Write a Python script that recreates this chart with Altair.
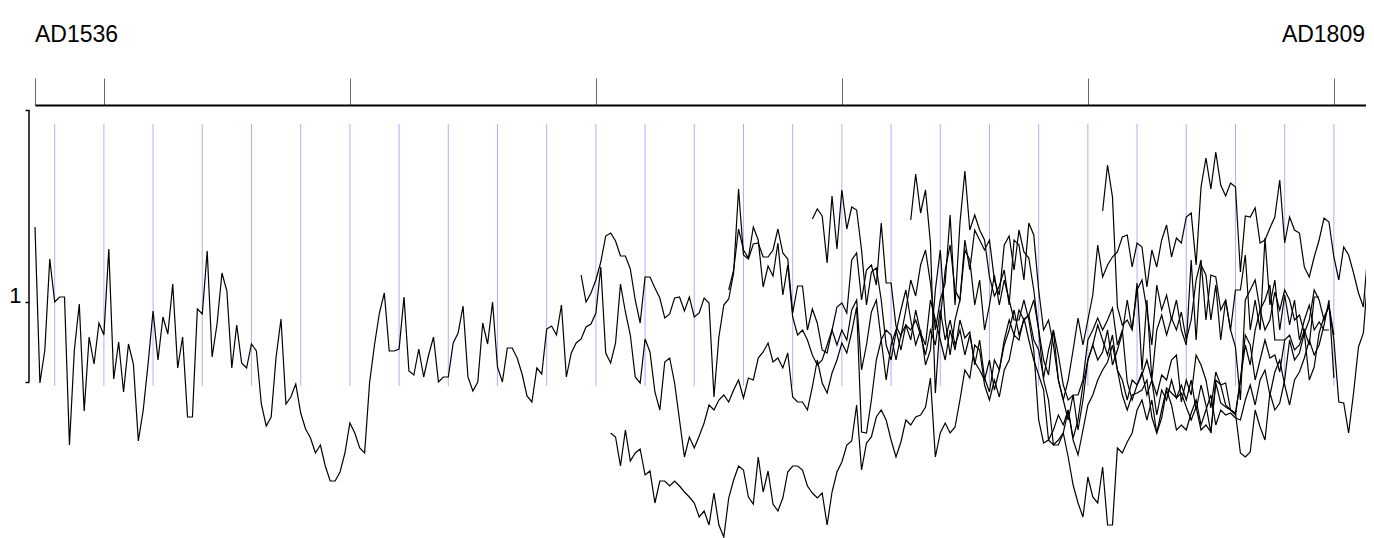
import altair as alt
import pandas as pd

# ---- axis / frame values ----
X_DOMAIN = [1536, 1806.53]
Y_DOMAIN = [-1.36, 2.97]
TICK_YEARS = [1536, 1550, 1600, 1650, 1700, 1750, 1800]
DECADES = list(range(1540, 1801, 10))
GUIDE_RANGE = [0.16, 2.78]
BRACKET = [0.2, 2.92]
Y_TICKS = [0.2, 1.0, 2.92]
START_LABEL, START_YEAR = "AD1536", 1536
END_LABEL = "AD1809"
FONT = "Liberation Sans, Arial, sans-serif"
PLOT_W, PLOT_H = 1331, 433

# ---- series (first year, yearly index values) ----
S1_START = 1536
S1 = [1.75, 0.19, 0.52, 1.43, 1.00, 1.05, 1.05, -0.43, 0.52, 0.98,
      -0.09, 0.65, 0.38, 0.79, 0.67, 1.53, 0.23, 0.60, 0.10, 0.58,
      0.38, -0.39, -0.08, 0.39, 0.91, 0.42, 0.85, 0.68, 1.18, 0.34,
      0.65, -0.15, -0.15, 0.93, 0.88, 1.51, 0.45, 0.78, 1.29, 1.11,
      0.34, 0.77, 0.39, 0.34, 0.58, 0.51, -0.02, -0.24, -0.15, 0.45,
      0.83, -0.02, 0.05, 0.18, -0.11, -0.27, -0.36, -0.51, -0.43, -0.64,
      -0.79, -0.79, -0.70, -0.51, -0.21, -0.31, -0.46, -0.51, 0.19, 0.57,
      0.89, 1.09, 0.51, 0.51, 0.53, 1.05, 0.31, 0.27, 0.53, 0.25,
      0.47, 0.65, 0.20, 0.25, 0.25, 0.59, 0.69, 0.96, 0.25, 0.11,
      0.20, 0.79, 0.58, 1.00, 0.35, 0.20, 0.54, 0.54, 0.44, 0.28,
      0.06, 0.00, 0.34, 0.28, 0.73, 0.76, 0.67, 0.97, 0.25, 0.49,
      0.59, 0.63, 0.75, 0.78, 0.89, 1.35, 0.49, 0.39, 0.59, 1.18,
      0.90, 0.67, 0.25, 0.19, 0.63, 0.50, 0.10, -0.08, 0.40, 0.44,
      0.19, -0.18, -0.55, -0.35, -0.46, -0.34, -0.21, -0.03, -0.08, 0.02,
      0.07, 0.00, 0.12, 0.22, 0.04, 0.24, 0.22, 0.44, 0.50, 0.59,
      0.40, 0.44, 0.34, 0.49, 0.05, 0.00, 0.00, -0.08, 0.15, 0.42,
      0.19, 0.09, 0.29, 0.42, 0.59, 0.49, 0.70, 0.95, -0.30, -0.31,
      0.02, 0.42, 0.62, 0.22, 0.57, 0.72, 0.52, 0.77, 0.72, 0.82,
      0.67, 0.47, 0.72, 0.57, 0.92, 0.62, 0.82, 0.57, 0.72, 0.47,
      0.67, 0.40, 0.32, 0.22, 0.42, 0.12, 0.32, 0.57, 0.72, 0.92,
      0.67, 0.82, 0.87, 0.62, 0.52, 0.24, 0.52, 0.72, 0.22, 0.02,
      -0.18, 0.07, -0.28, 0.02, 0.42, 0.57, 0.77, 0.62, 0.47, 0.67,
      0.32, 0.22, 0.02, 0.22, 0.17, 0.30, 0.07, 0.22, -0.13, 0.12,
      0.02, 0.22, 0.04, 0.17, 0.02, 0.22, -0.08, 0.17, -0.03, -0.31,
      0.22, 0.17, -0.03, -0.08, -0.11, 0.22, 0.67, 0.57, 0.22, 0.42,
      0.62, 0.44, 0.47, 0.30, 0.62, 0.67, 0.52, 0.57, 0.72, 0.57, 1.05, 1.05]

B_START = 1647
B = [1.27, 1.00, 1.09, 1.22, 1.40, 1.66, 1.69, 1.61, 1.46, 1.46,
     1.33, 1.02, 0.79, 1.25, 1.25, 1.14, 1.04, 0.84, 0.88, 1.04,
     1.05, 0.91, 1.05, 0.85, 0.89, 1.04, 0.99, 0.05, 0.65, 0.97,
     1.03, 1.29, 2.13, 1.47, 1.43, 1.58, 1.59, 1.45, 1.45, 1.52,
     1.73, 1.49, 1.43, 0.89,
     1.16, 1.16, 0.72, 0.93, 0.79, 0.52, 0.49, 0.72, 0.95, 0.99,
     0.89, 1.42, 1.49, 1.02, 1.32, 1.37, 1.17, 1.79, 1.19, 1.19,
     0.76, 0.66, 0.92, 1.22, 1.06, 1.37, 1.52, 1.19, 0.72, 1.02,
     1.19, 1.87, 0.97, 1.79, 2.31, 1.72, 1.87, 1.72, 1.62, 1.25,
     1.06, 1.16, 1.32, 0.97, 1.62, 1.57, 1.22, 1.79, 1.67, 1.12,
     0.72, 0.82, 0.57, 0.22, 0.02, 0.22, 0.52, 0.84, 0.57, 0.82,
     1.07, 1.57, 1.25, 1.37, 1.45, 1.50, 1.65, 1.67, 1.35, 1.59,
     1.55, 1.15, 1.52, 1.35, 1.62, 1.77, 1.45, 1.64, 1.59, 1.85,
     1.89, 1.37, 2.15, 2.44, 2.13, 2.50, 2.17, 2.06, 2.19, 2.15,
     1.30, 1.86, 1.85, 1.94, 1.59, 1.62, 1.74, 1.85, 2.22, 1.59,
     1.85, 1.72, 1.69, 1.35, 1.25, 1.45, 1.62, 1.84, 1.80, 1.45,
     1.22, 1.55, 1.47, 1.29, 1.09, 0.95, 1.55, 1.12]

C_START = 1677
C = [1.12, 1.32, 1.73, 1.52, 1.44, 1.75, 1.62, 1.15, 1.36, 1.26,
     1.59, 1.07, 1.37, 0.85,
     0.67, 0.72, 0.62, 0.47, 0.37, 0.42, 0.57, 0.72, 0.57, 0.72,
     0.62, 0.92, 1.02, 0.32, 0.57, 0.90, 1.02, 0.62, 0.72, 0.67,
     0.42, 0.67, 0.77, 0.62, 0.92, 0.69, 0.57, 1.02, 0.82, 0.62,
     0.42, 0.72, 0.52, 0.82, 0.64, 0.70, 0.37, 0.62, 0.24, 0.10,
     0.42, 0.32, 0.62, 0.82, 0.67, 0.92, 0.82, 0.87, 1.02, 0.72,
     0.22, 0.02, -0.43, -0.43, -0.31, -0.08, -0.38, -0.53, -0.28, -0.03,
     0.07, 0.22, 0.32, 0.40, 0.57, 0.32, 0.07, -0.08, 0.07, 0.09,
     0.12, 0.22, -0.15, -0.31, -0.08, 0.14, 0.09, 0.04, 0.09, -0.05,
     -0.18, -0.05, -0.28, -0.23, -0.30, 0.19, -0.01, -0.05, -0.08, -0.13,
     0.22, 0.57, 0.37, 0.72, 0.92, 1.02, 1.17, 0.62, 0.62, 0.62]

D_START = 1653
D = [-0.31, -0.35, -0.64, -0.28, -0.59, -0.51, -0.47, -0.73, -0.69, -1.01,
     -0.79, -0.79, -0.84, -0.79, -0.84, -0.90, -0.95, -1.01, -1.15, -1.09,
     -1.23, -0.91, -1.23, -1.35, -0.96, -0.78, -0.64, -0.68, -0.95, -1.02,
     -0.55, -0.90, -0.69, -1.02, -1.09, -0.96, -0.70, -0.64, -0.64, -0.68,
     -0.84, -0.91, -0.96, -0.91, -1.23, -0.90, -0.70, -0.60, -0.43, -0.39,
     -0.03, -0.68, -0.41, -0.35, -0.15, -0.08, -0.18, -0.38, -0.55, -0.40,
     -0.18, -0.23, -0.15, -0.13, -0.05, 0.24, -0.55, -0.31, -0.21, -0.31,
     -0.25, 0.02, 0.32,
     0.24, 0.57, 0.52, 0.17, 0.02, 0.22, 0.05, 0.32, 0.42, 0.67,
     0.62, 0.84, 0.62, 0.42, 0.27, 0.12, -0.38, -0.43, -0.38, -0.31,
     -0.55, -0.83, -1.01, -1.15, -0.75, -0.95, -1.01, -0.65, -1.23, -1.23,
     -0.46, -0.51, -0.40, -0.31, -0.08, 0.02, -0.18, 0.02, -0.31, -0.16,
     0.12, -0.03, -0.28, -0.23, -0.28, -0.11, 0.02, -0.23, -0.08, 0.07,
     -0.23, -0.08, -0.13, -0.11, -0.16, -0.18, 0.02, 0.17, -0.03, 0.22,
     0.32, 0.07, 0.30, 0.42, 0.17, -0.03, 0.22, 0.30, 0.44, 0.62,
     0.47, 0.57, 0.77, 1.02, 0.24]

E_START = 1694
E = [1.83, 1.93, 1.86, 1.39, 2.06, 1.53, 2.12, 1.73, 1.95, 1.92,
     1.52, 0.97, 1.30, 1.34, 1.02, 0.57, 0.42, 0.70, 0.92, 1.12,
     0.82, 0.57, 0.72, 0.37, 0.52, 1.12, 1.52, 0.82, 0.47, 0.82,
     1.02, 1.62, 1.32, 1.72, 1.62, 1.52, 1.62, 1.22, 1.07, 1.57,
     1.66, 1.32, 1.72, 1.50, 1.44, 1.12, 0.72, 0.42, 0.27, 0.72,
     0.47, 0.17, 0.02, 0.07, 0.07, 0.22, 0.62, 0.72, 0.84, 0.72,
     0.82, 0.94, 0.57, 0.72, 0.20, 0.02, 0.17, 0.27, 0.42, 0.22,
     0.07, 0.27, 0.22, 0.42, 0.47, 0.00, 0.22, 0.07, 0.47, 0.37,
     0.22, -0.06, 0.30, 0.17, 0.19, -0.08, -0.11, -0.51, -0.55, -0.50,
     -0.08, -0.25, -0.38, 0.09, -0.08, -0.01, 0.22, 0.62, 0.42, 0.49,
     0.69, 0.22, 0.35, 0.69, 0.85, 0.95, 0.62, 0.00, -0.01, -0.31,
     0.09, 0.55, 0.69, 1.32, 1.22]

F_START = 1714
F = [1.82, 2.28, 1.89, 2.12, 1.59, 0.09, 0.82, 1.32, 1.57, 1.12,
     1.02, 1.52, 1.42, 0.97, 1.22, 0.72, 0.97, 1.27, 0.97, 1.22,
     1.02, 0.82, 0.82, 1.02, 0.82, 0.52, -0.18, -0.41, -0.38, -0.28,
     -0.13, -0.23, -0.08, -0.36, -0.18, 0.17, 0.42, 0.57, 0.42, 0.50,
     0.72, 0.37, 0.52, 0.69, 1.02, 0.72, 1.19, 0.32, 1.02, 0.22,
     0.72, 0.87, 0.67, 0.84, 0.72, 0.90, 0.62, 0.82, 1.22, 1.42,
     0.82, 1.27, 1.25, 0.92, 1.02, 0.72, 1.12, 1.12, 1.47, 0.72,
     1.02, 0.72, 1.64, 0.97, 1.22, 0.72, 1.07, 0.77, 1.02, 0.62,
     0.82, 0.97, 0.72, 0.80, 0.72, 0.72]

G_START = 1753
G = [1.91, 2.37, 2.05, 0.95, 0.77, 0.82, 0.72, 1.12, 1.22, 0.92,
     0.57, 1.17, 0.92, 1.07, 0.82, 1.02, 0.72, 0.57, 1.42, 0.62,
     1.37, 1.27, 0.82, 1.17, 0.62, 1.02, 0.72, 0.55, 0.02, 1.02,
     1.12, 1.22, 0.92, 0.72, 0.82, 1.10, 0.92, 1.12, 1.02, 0.82,
     0.87, 0.69, 0.82, 1.12, 1.02, 0.82, 0.97, 0.67]

SERIES = [("S1", S1_START, S1), ("B", B_START, B), ("C", C_START, C),
          ("D", D_START, D), ("E", E_START, E), ("F", F_START, F),
          ("G", G_START, G)]

rows = []
for name, start, vals in SERIES:
    for i, v in enumerate(vals):
        rows.append({"series": name, "year": start + i, "value": v})
df = pd.DataFrame(rows)

xs = alt.Scale(domain=X_DOMAIN, nice=False, zero=False)
ys = alt.Scale(domain=Y_DOMAIN, nice=False, zero=False)

guides = alt.Chart(pd.DataFrame({"year": DECADES, "lo": GUIDE_RANGE[0], "hi": GUIDE_RANGE[1]})).mark_rule(
    color="#8c8cff", strokeWidth=1, opacity=0.7
).encode(
    x=alt.X("year:Q", scale=xs,
            axis=alt.Axis(orient="top", values=TICK_YEARS, labels=False, tickSize=27,
                          tickColor="#666666", tickWidth=1, domainColor="black",
                          domainWidth=2, grid=False, title=None)),
    y=alt.Y("lo:Q", scale=ys,
            axis=alt.Axis(orient="left", values=Y_TICKS, domain=False, tickSize=4,
                          tickColor="black", tickWidth=1.5, offset=6, grid=False,
                          labelExpr="datum.value == 1 ? '1' : ''", labelFont=FONT,
                          labelFontSize=22, labelColor="black", labelBaseline="alphabetic",
                          labelPadding=4, title=None)),
    y2="hi:Q",
)

bracket = alt.Chart(pd.DataFrame({"lo": [BRACKET[0]], "hi": [BRACKET[1]]})).mark_rule(
    color="black", strokeWidth=1.5
).encode(x=alt.value(-6), y=alt.Y("lo:Q", scale=ys), y2="hi:Q")

lines = alt.Chart(df).mark_line(color="black", strokeWidth=1.2).encode(
    x=alt.X("year:Q", scale=xs),
    y=alt.Y("value:Q", scale=ys),
    detail="series:N",
)

start_label = alt.Chart(pd.DataFrame({"year": [START_YEAR], "text": [START_LABEL]})).mark_text(
    font=FONT, fontSize=23, color="black", baseline="alphabetic", align="left"
).encode(x=alt.X("year:Q", scale=xs), y=alt.value(-63), text="text:N")

# the end label sits at the right edge of the (cropped) time axis
end_label = alt.Chart(pd.DataFrame({"text": [END_LABEL]})).mark_text(
    font=FONT, fontSize=23, color="black", baseline="alphabetic", align="right"
).encode(x=alt.value(PLOT_W - 1), y=alt.value(-63), text="text:N")

chart = alt.layer(guides, bracket, lines, start_label, end_label).properties(
    width=PLOT_W, height=PLOT_H,
    autosize=alt.AutoSizeParams(type="none"),
    padding={"left": 27, "top": 97, "right": 0, "bottom": 0},
    background="white",
).configure_view(stroke=None)

chart.save("out.html", embed_options={"renderer": "svg", "actions": False})
